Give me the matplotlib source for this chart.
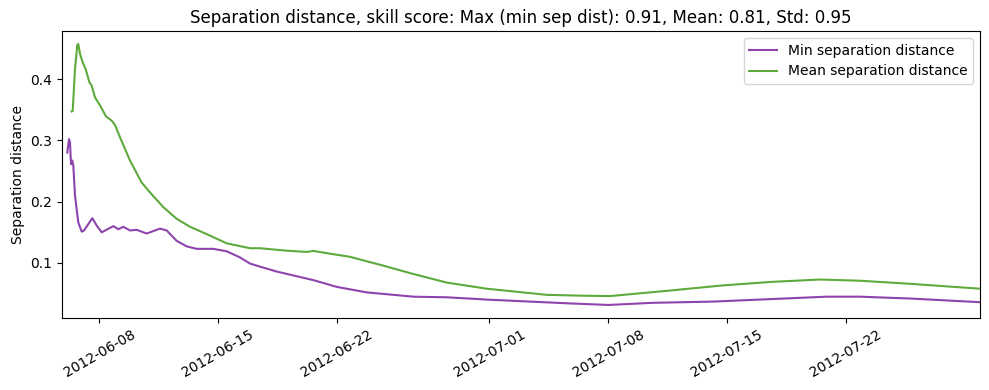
import numpy as np
import pandas as pd
import matplotlib
matplotlib.use("Agg")
import matplotlib.pyplot as plt
import matplotlib.dates as mdates

start = pd.Timestamp("2012-06-06 00:00")

# days since start, values
min_days = [0.112, 0.212, 0.271, 0.330, 0.407, 0.466, 0.566, 0.761, 0.961, 1.097,
            1.586, 1.846, 2.140, 2.824, 3.119, 3.414, 3.809, 4.204, 4.794, 5.578,
            5.973, 6.563, 7.152, 7.742, 8.721, 9.511, 10.295, 10.884, 11.474, 12.459,
            14.617, 15.996, 17.765, 20.513, 22.483, 25.035, 27.394, 29.752, 32.01,
            34.65, 38.18, 41.54, 44.89, 46.85, 49.80, 53.93]
min_vals = [0.280, 0.302, 0.297, 0.261, 0.267, 0.259, 0.210, 0.166, 0.151, 0.153,
            0.173, 0.161, 0.150, 0.160, 0.155, 0.159, 0.153, 0.154, 0.148, 0.156,
            0.153, 0.136, 0.127, 0.123, 0.123, 0.119, 0.109, 0.099, 0.094, 0.086,
            0.072, 0.061, 0.052, 0.045, 0.044, 0.040, 0.037, 0.034, 0.0315,
            0.035, 0.037, 0.041, 0.045, 0.045, 0.042, 0.036]

mean_days = [0.371, 0.430, 0.566, 0.702, 0.761, 0.861, 1.020, 1.197, 1.409, 1.551,
             1.745, 2.040, 2.394, 2.730, 2.925, 3.219, 3.514, 3.809, 4.499, 4.988,
             5.773, 6.563, 7.347, 8.331, 9.511, 10.884, 11.474, 13.048, 14.227, 14.617,
             15.407, 16.781, 18.745, 20.513, 22.483, 24.841, 28.379, 30.342, 32.11,
             35.65, 38.60, 41.54, 44.49, 46.85, 49.80, 53.93]
mean_vals = [0.347, 0.348, 0.416, 0.456, 0.457, 0.441, 0.427, 0.416, 0.395, 0.389,
             0.370, 0.357, 0.339, 0.332, 0.325, 0.305, 0.286, 0.267, 0.231, 0.215,
             0.191, 0.172, 0.159, 0.147, 0.132, 0.124, 0.124, 0.120, 0.118, 0.1196,
             0.116, 0.110, 0.0956, 0.082, 0.068, 0.058, 0.048, 0.0467, 0.046,
             0.055, 0.063, 0.069, 0.073, 0.071, 0.066, 0.058]

xlim_left_days = -0.2
title = "Separation distance, skill score: Max (min sep dist): 0.91, Mean: 0.81, Std: 0.95"

min_t = start + pd.to_timedelta(min_days, unit="D")
mean_t = start + pd.to_timedelta(mean_days, unit="D")

fig, ax = plt.subplots(figsize=(9.89, 3.9), dpi=100)
ax.plot(min_t, min_vals, color="#8e44ad", lw=1.5, label="Min separation distance")
ax.plot(mean_t, mean_vals, color="#5eaa3c", lw=1.5, label="Mean separation distance")
ax.set_xlim(start + pd.Timedelta(days=xlim_left_days), max(min_t[-1], mean_t[-1]))
ax.xaxis.set_major_locator(mdates.DayLocator(bymonthday=[1, 8, 15, 22]))
ax.xaxis.set_major_formatter(mdates.DateFormatter("%Y-%m-%d"))
plt.setp(ax.get_xticklabels(), rotation=30)
ax.set_yticks([0.1, 0.2, 0.3, 0.4])
ax.set_ylabel("Separation distance")
ax.set_title(title)
ax.legend(loc="upper right")
fig.subplots_adjust(left=0.0627, right=0.991, top=0.9205, bottom=0.1846)
fig.savefig("out.png", dpi=100)
